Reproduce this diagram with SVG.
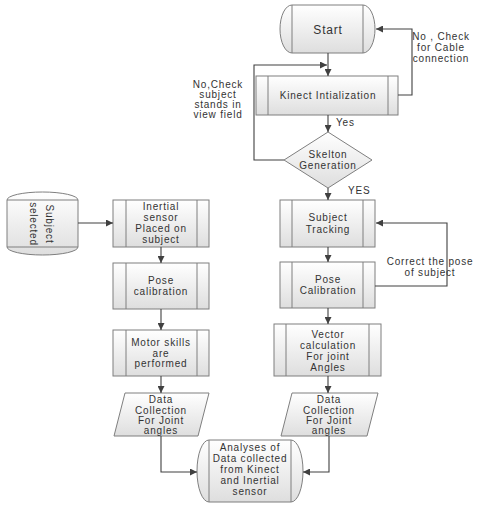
<svg xmlns="http://www.w3.org/2000/svg" width="480" height="510" viewBox="0 0 480 510">
<defs>
<linearGradient id="g" x1="0" y1="0" x2="0" y2="1">
<stop offset="0" stop-color="#ffffff"/>
<stop offset="1" stop-color="#dedede"/>
</linearGradient>
<marker id="arr" viewBox="0 0 10 10" refX="10" refY="5" markerWidth="7" markerHeight="7" orient="auto" markerUnits="userSpaceOnUse">
<path d="M0,0 L10,5 L0,10 Z" fill="#404040"/>
</marker>
</defs>
<style>
.s{fill:url(#g);stroke:#7f7f7f;stroke-width:1}
.l{stroke:#7f7f7f;stroke-width:1;fill:none}
.c{fill:none;stroke:#404040;stroke-width:1.1;marker-end:url(#arr)}
text{font-family:"Liberation Sans",Arial,sans-serif;font-size:10px;fill:#333333;letter-spacing:0.8px}
.m{text-anchor:middle}
</style>
<rect width="480" height="510" fill="#ffffff"/>

<g id="start">
<path class="s" d="M292,5 H363 A12,24 0 0 1 363,53 H292 A12,24 0 0 1 292,5 Z"/>
<path class="l" d="M292,5 V53 M363,5 V53"/>
<text class="m" x="328" y="34" style="font-size:12px">Start</text>
</g>

<g id="kinect">
<rect class="s" x="256" y="76" width="142" height="39"/>
<path class="l" d="M268,76 V115 M388,76 V115"/>
<text class="m" x="328" y="99">Kinect Intialization</text>
</g>

<g id="skelton">
<polygon class="s" points="328,132 372,160 328,188 284,160"/>
<text class="m" x="328" y="158">Skelton</text>
<text class="m" x="328" y="169">Generation</text>
</g>

<g id="tracking">
<rect class="s" x="280" y="200" width="95" height="47"/>
<path class="l" d="M292,200 V247 M363,200 V247"/>
<text class="m" x="328" y="221">Subject</text>
<text class="m" x="328" y="233">Tracking</text>
</g>

<g id="posecalR">
<rect class="s" x="280" y="262" width="95" height="46"/>
<path class="l" d="M292,262 V308 M363,262 V308"/>
<text class="m" x="328" y="283">Pose</text>
<text class="m" x="328" y="294">Calibration</text>
</g>

<g id="vector">
<rect class="s" x="274" y="324" width="107" height="52"/>
<path class="l" d="M286,324 V376 M369,324 V376"/>
<text class="m" x="328" y="338">Vector</text>
<text class="m" x="328" y="349">calculation</text>
<text class="m" x="328" y="360">For joint</text>
<text class="m" x="328" y="371">Angles</text>
</g>

<g id="dataR">
<polygon class="s" points="292,393 378,393 367,436 281,436"/>
<text class="m" x="329" y="403">Data</text>
<text class="m" x="329" y="414">Collection</text>
<text class="m" x="329" y="424">For Joint</text>
<text class="m" x="329" y="434">angles</text>
</g>

<g id="subject">
<path class="s" d="M7,200 A35.5,8 0 0 1 78,200 V247 A35.5,8 0 0 1 7,247 Z"/>
<path class="l" d="M7,200 H78 M7,247 H78"/>
<text class="m" transform="translate(46,224) rotate(90)">Subject</text>
<text class="m" transform="translate(30,224) rotate(90)">selected</text>
</g>

<g id="inertial">
<rect class="s" x="113" y="200" width="96" height="47"/>
<path class="l" d="M126,200 V247 M197,200 V247"/>
<text class="m" x="161" y="210">Inertial</text>
<text class="m" x="161" y="221">sensor</text>
<text class="m" x="161" y="232">Placed on</text>
<text class="m" x="161" y="243">subject</text>
</g>

<g id="posecalL">
<rect class="s" x="113" y="263" width="96" height="46"/>
<path class="l" d="M126,263 V309 M197,263 V309"/>
<text class="m" x="161" y="284">Pose</text>
<text class="m" x="161" y="295">calibration</text>
</g>

<g id="motor">
<rect class="s" x="113" y="330" width="96" height="46"/>
<path class="l" d="M126,330 V376 M197,330 V376"/>
<text class="m" x="161" y="346">Motor skills</text>
<text class="m" x="161" y="357">are</text>
<text class="m" x="161" y="367">performed</text>
</g>

<g id="dataL">
<polygon class="s" points="125,393 209,393 198,436 114,436"/>
<text class="m" x="161" y="403">Data</text>
<text class="m" x="161" y="414">Collection</text>
<text class="m" x="161" y="424">For Joint</text>
<text class="m" x="161" y="434">angles</text>
</g>

<g id="analyses">
<path class="s" d="M209,440 H291 A12,31 0 0 1 291,502 H209 A12,31 0 0 1 209,440 Z"/>
<path class="l" d="M209,440 V502 M291,440 V502"/>
<text class="m" x="250" y="451">Analyses of</text>
<text class="m" x="250" y="462">Data collected</text>
<text class="m" x="250" y="473">from Kinect</text>
<text class="m" x="250" y="484">and Inertial</text>
<text class="m" x="250" y="495">sensor</text>
</g>

<g id="connectors">
<path class="c" d="M328,53 V76"/>
<path class="c" d="M398,95 H412 V29 H376"/>
<path class="c" d="M328,115 V132"/>
<path class="c" d="M284,160 H254 V65 H327"/>
<path class="c" d="M328,188 V200"/>
<path class="c" d="M328,247 V262"/>
<path class="c" d="M375,286 H447 V223 H376"/>
<path class="c" d="M328,308 V324"/>
<path class="c" d="M328,376 V393"/>
<path class="c" d="M329,436 V472 H303"/>
<path class="c" d="M78,223 H113"/>
<path class="c" d="M161,247 V263"/>
<path class="c" d="M161,309 V330"/>
<path class="c" d="M161,376 V393"/>
<path class="c" d="M161,436 V472 H197"/>
</g>

<g id="labels">
<text class="m" x="441" y="40">No , Check</text>
<text class="m" x="441" y="51">for Cable</text>
<text class="m" x="441" y="62">connection</text>
<text class="m" x="218" y="88">No,Check</text>
<text class="m" x="218" y="98">subject</text>
<text class="m" x="218" y="108">stands in</text>
<text class="m" x="218" y="118">view field</text>
<text x="336" y="126">Yes</text>
<text x="348" y="194">YES</text>
<text class="m" x="430" y="265">Correct the pose</text>
<text class="m" x="430" y="276">of subject</text>
</g>
</svg>
